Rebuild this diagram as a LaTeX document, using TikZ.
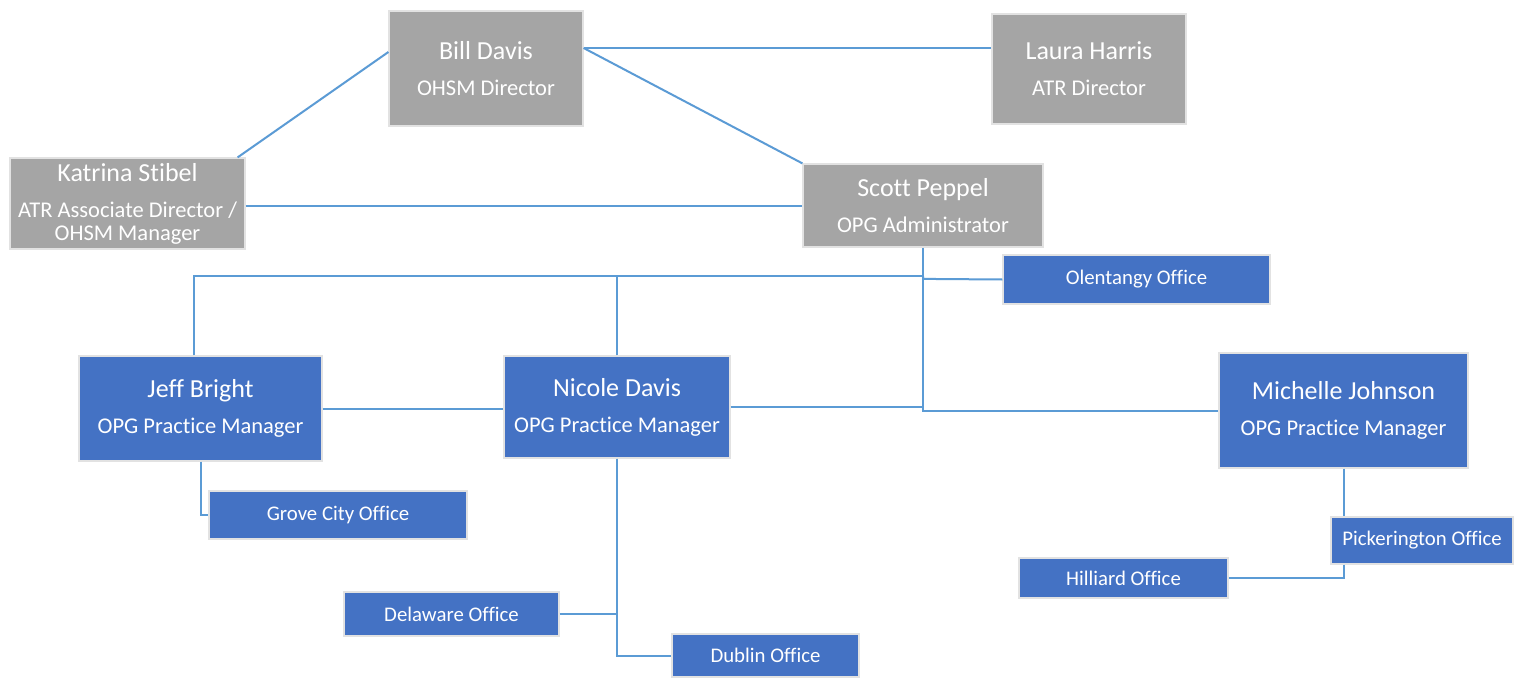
\documentclass[tikz,border=0pt]{standalone}
\usepackage{fontspec}
\setmainfont[Ligatures=NoCommon]{Carlito}
\definecolor{boxgray}{HTML}{A5A5A5}
\definecolor{boxblue}{HTML}{4472C4}
\definecolor{linkblue}{HTML}{5B9BD5}
\definecolor{rimgray}{HTML}{E2E2E2}
\newcommand{\namef}{\fontsize{26}{36}\selectfont}
\newcommand{\offf}{\fontsize{20.8}{25}\selectfont}
\begin{document}
\begin{tikzpicture}[x=1pt,y=-1pt,
  box/.style={rectangle, draw=rimgray, line width=1.2pt, text=white, align=center, inner sep=0pt, font=\fontsize{22.5}{36}\selectfont},
  graybox/.style={box, fill=boxgray},
  bluebox/.style={box, fill=boxblue},
  officebox/.style={box, fill=boxblue, font=\offf},
  link/.style={draw=linkblue, line width=2pt}]
\useasboundingbox[fill=white] (0,0) rectangle (1522,677);

% top level
\node[graybox, minimum width=194pt, minimum height=115pt] (bill) at (486,68.5) {{\namef Bill Davis}\\OHSM Director};
\node[graybox, minimum width=194pt, minimum height=110pt] (laura) at (1089,69) {{\namef Laura Harris}\\ATR Director};
\node[graybox, minimum width=235pt, minimum height=91pt] (katrina) at (127.5,203.5) {{\namef Katrina Stibel}\\ATR Associate Director /\\[-13pt]OHSM Manager};
\node[graybox, minimum width=240pt, minimum height=83pt] (scott) at (923,205.5) {{\namef Scott Peppel}\\OPG Administrator};

% managers
\node[bluebox, minimum width=243pt, minimum height=105pt] (jeff) at (200.5,408.5) {{\namef Jeff Bright}\\OPG Practice Manager};
\node[bluebox, minimum width=226pt, minimum height=102pt] (nicole) at (617,407) {{\namef Nicole Davis}\\OPG Practice Manager};
\node[bluebox, minimum width=249pt, minimum height=115pt] (michelle) at (1343.5,410.5) {{\namef Michelle Johnson}\\OPG Practice Manager};

% offices
\node[officebox, minimum width=267pt, minimum height=49pt] (olentangy) at (1136.5,279.5) {Olentangy Office};
\node[officebox, minimum width=258pt, minimum height=48pt] (grove) at (338,515) {Grove City Office};
\node[officebox, minimum width=215pt, minimum height=44pt] (delaware) at (451.5,614) {Delaware Office};
\node[officebox, minimum width=187pt, minimum height=43pt] (dublin) at (765.5,655.5) {Dublin Office};
\node[officebox, minimum width=182pt, minimum height=47pt] (pick) at (1422,540.5) {Pickerington Office};
\node[officebox, minimum width=209pt, minimum height=40pt] (hilliard) at (1123.5,578) {Hilliard Office};

% connectors
\draw[link] ([yshift=20.5pt]bill.east) coordinate (bl) -- (bl -| laura.west);
\draw[link] (bl) -- (scott.north west);
\draw[link] ([yshift=16.5pt]bill.west) -- ([xshift=-8pt]katrina.north east);
\draw[link] ([yshift=-2.5pt]katrina.east) coordinate (kr) -- (kr -| scott.west);
\draw[link] (scott.south) |- (michelle.west);
\draw[link] ([xshift=-6.5pt]jeff.north) -- ++(0,-79) coordinate (busL) -- (busL -| scott.south);
\draw[link] (busL -| scott.south) -- ++(0,2.5) -- (olentangy.west);
\draw[link] (nicole.north) -- (nicole.north |- busL);
\draw[link] (jeff.east) -- (jeff.east -| nicole.west);
\draw[link] (nicole.east) -- (nicole.east -| scott.south);
\draw[link] (jeff.south) |- (grove.west);
\draw[link] (nicole.south) |- (dublin.west);
\draw[link] (delaware.east) -- (delaware.east -| nicole.south);
\draw[link] (michelle.south) -- (michelle.south |- pick.north);
\draw[link] (pick.south -| michelle.south) |- (hilliard.east);
\end{tikzpicture}
\end{document}
